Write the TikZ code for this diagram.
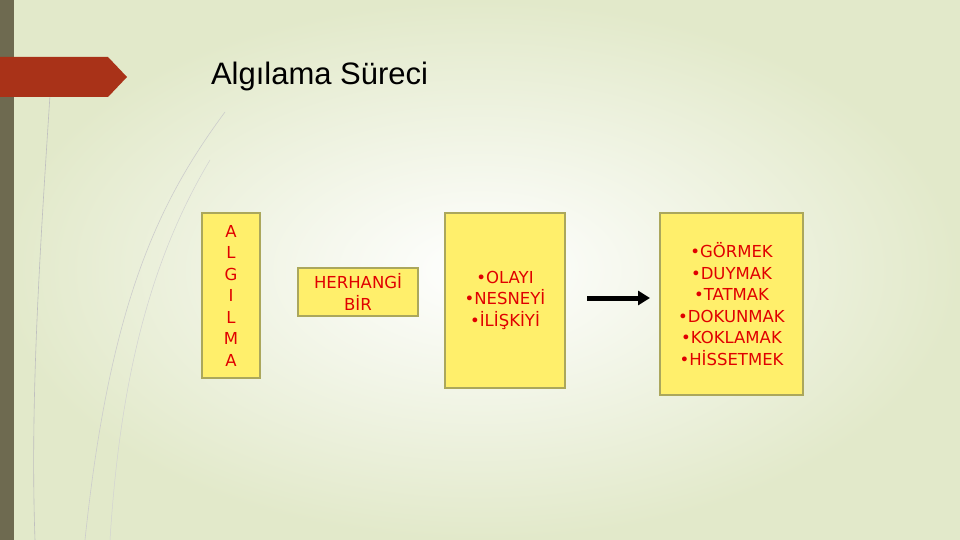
\documentclass[tikz,border=0pt]{standalone}
\usepackage{fontspec}
\setmainfont{Liberation Sans}
\newfontfamily\boxfont{DejaVu Sans}
\usetikzlibrary{calc,positioning,arrows.meta}
\definecolor{boxfill}{HTML}{FFEF6B}
\definecolor{boxline}{HTML}{ABA75C}
\definecolor{boxtext}{HTML}{E00000}
\definecolor{stripcol}{HTML}{6E6A50}
\definecolor{tabred}{HTML}{A93218}
\begin{document}
\begin{tikzpicture}[x=1pt,y=-1pt,inner sep=0pt,outer sep=0pt,
    yellowbox/.style={draw=boxline,line width=2.5pt,fill=boxfill,anchor=north west},
    boxtxt/.style={text=boxtext,font=\boxfont\fontsize{16.5}{21.5}\selectfont,align=center}]
    % background
    \shade[inner color=white,outer color={rgb,255:red,226;green,233;blue,202}]
      (0,0) rectangle (960,540);
    \useasboundingbox (0,0) rectangle (960,540);
    \fill[stripcol] (0,0) rectangle (14,540);
    % thin decorative strokes
    \draw[gray!50,line width=0.6pt] (50,95) .. controls (40,250) and (30,400) .. (35,540);
    \draw[gray!40,line width=0.6pt] (225,112) .. controls (160,200) and (110,300) .. (85,540);
    \draw[gray!35,line width=0.5pt] (210,160) .. controls (150,260) and (120,380) .. (110,540);
    % title tab
    \fill[tabred] (0,57) -- (108,57) -- (127,77) -- (108,97) -- (0,97) -- cycle;
    \node[anchor=west] (title) at (211,76) {\fontsize{31}{36}\selectfont Algılama Süreci};
    % boxes
    \node[yellowbox,minimum width=58,minimum height=165] (algilama) at (202,213) {};
    \node[boxtxt,anchor=center] (algilama_txt) at (algilama.center)
      {A\\L\\G\\I\\L\\M\\A};
    \node[yellowbox,minimum width=120,minimum height=48] (herhangi) at (298,268) {};
    \node[boxtxt,anchor=center] (herhangi_txt) at (herhangi.center) {HERHANGİ\\BİR};
    \node[yellowbox,minimum width=120,minimum height=175] (nesne) at (445,213) {};
    \node[boxtxt,anchor=north] (nesne_txt) at ($(nesne.north)+(0,58)$)
      {•OLAYI\\•NESNEYİ\\•İLİŞKİYİ};
    \node[yellowbox,minimum width=143,minimum height=182] (duyu) at (660,213) {};
    \node[boxtxt,anchor=center] (duyu_txt) at (duyu.center)
      {•GÖRMEK\\•DUYMAK\\•TATMAK\\•DOKUNMAK\\•KOKLAMAK\\•HİSSETMEK};
    % arrow
    \coordinate (arr_start) at (587,298);
    \coordinate (arr_end) at (650,298);
    \draw[line width=5pt,-{Triangle[length=12pt,width=14pt]}] (arr_start) -- (arr_end);
\end{tikzpicture}
\end{document}
